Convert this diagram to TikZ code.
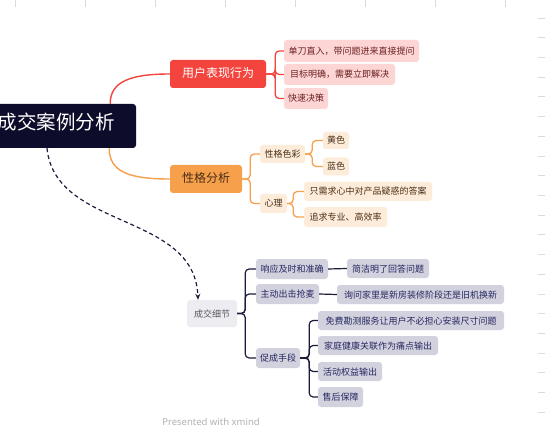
\documentclass[tikz,border=0pt]{standalone}
\usepackage{fontspec}
\setmainfont{Noto Sans CJK SC}
\newfontfamily\latinfont{Noto Sans}
\usetikzlibrary{arrows.meta}
\definecolor{rootc}{HTML}{0D0C2B}
\definecolor{redc}{HTML}{F4443E}
\definecolor{pinkc}{HTML}{FDD5D5}
\definecolor{pinkt}{HTML}{6B2020}
\definecolor{orangec}{HTML}{F6A04C}
\definecolor{peachc}{HTML}{FDECD9}
\definecolor{oranget}{HTML}{4A2E16}
\definecolor{dealc}{HTML}{EDEDF1}
\definecolor{dealt}{HTML}{55555F}
\definecolor{grayc}{HTML}{D2D2DE}
\definecolor{grayt}{HTML}{262660}
\definecolor{navyl}{HTML}{1C1C3C}
\definecolor{tickc}{HTML}{DADADA}
\tikzset{
  bx/.style={rounded corners=3pt, inner sep=0pt, align=center, text height=0.8em, text depth=0.1em},
  rootbox/.style={bx, fill=rootc, text=white, font=\fontsize{19.5}{22}\selectfont},
  redbox/.style={bx, fill=redc, text=white, font=\fontsize{12}{14}\selectfont},
  orgbox/.style={bx, fill=orangec, text=oranget, font=\fontsize{12}{14}\selectfont},
  pinkbox/.style={bx, fill=pinkc, text=pinkt, font=\fontsize{9}{11}\selectfont},
  peachbox/.style={bx, fill=peachc, text=oranget, font=\fontsize{9}{11}\selectfont},
  dealbox/.style={bx, fill=dealc, text=dealt, font=\fontsize{9}{11}\selectfont},
  graybox/.style={bx, fill=grayc, text=grayt, font=\fontsize{9}{11}\selectfont},
  redline/.style={draw=redc, line width=1.3pt, rounded corners=4pt},
  orgline/.style={draw=orangec, line width=1.3pt, rounded corners=4pt},
  navyline/.style={draw=navyl, line width=1.2pt, rounded corners=4pt},
  tick/.style={draw=tickc, line width=0.6pt}
}
\begin{document}
\begin{tikzpicture}[x=1pt,y=-1pt]
\useasboundingbox (0,0) rectangle (545,427);
\fill[white] (0,0) rectangle (545,427);
\clip (0,0) rectangle (545,427);
% ruler ticks
\foreach \k in {0,...,7} { \draw[tick] (15+70*\k,0) -- (15+70*\k,7); }
\foreach \k in {0,...,20} { \draw[tick] (538,18+19.7*\k) -- (545,18+19.7*\k); }

% root
\node[rootbox, minimum width=159pt, minimum height=44pt] (root) at (56.5,126) {成交案例分析};

% level 1
\node[redbox, minimum width=96pt, minimum height=28pt] (red) at (218,74) {用户表现行为};
\node[orgbox, minimum width=72pt, minimum height=28pt] (org) at (206,179) {性格分析};
\node[dealbox, minimum width=50pt, minimum height=27pt] (deal) at (212,313.5) {成交细节};

% red children
\node[pinkbox, minimum width=135pt, minimum height=22pt] (r1) at (351.5,51) {单刀直入，带问题进来直接提问};
\node[pinkbox, minimum width=111pt, minimum height=21pt] (r2) at (339.5,74.5) {目标明确，需要立即解决};
\node[pinkbox, minimum width=44pt, minimum height=21pt] (r3) at (306,98.5) {快速决策};

% orange children
\node[peachbox, minimum width=45pt, minimum height=18pt] (o1) at (282.5,154) {性格色彩};
\node[peachbox, minimum width=27pt, minimum height=19pt] (o2) at (273.5,203.5) {心理};
\node[peachbox, minimum width=26pt, minimum height=17pt] (o11) at (336,140.5) {黄色};
\node[peachbox, minimum width=26pt, minimum height=18pt] (o12) at (336,166.5) {蓝色};
\node[peachbox, minimum width=128pt, minimum height=19pt] (o21) at (368,191.5) {只需求心中对产品疑惑的答案};
\node[peachbox, minimum width=83pt, minimum height=20pt] (o22) at (345.5,217) {追求专业、高效率};

% deal children
\node[graybox, minimum width=72pt, minimum height=20pt] (d1) at (292,269) {响应及时和准确};
\node[graybox, minimum width=63pt, minimum height=20pt] (d2) at (287.5,294) {主动出击抢麦};
\node[graybox, minimum width=44pt, minimum height=20pt] (d3) at (278,358) {促成手段};
\node[graybox, minimum width=82pt, minimum height=19pt] (d11) at (388,268.5) {简洁明了回答问题};
\node[graybox, minimum width=167pt, minimum height=19pt] (d21) at (420.5,294.5) {询问家里是新房装修阶段还是旧机换新};
\node[graybox, minimum width=186pt, minimum height=19pt] (d31) at (411,320.5) {免费勘测服务让用户不必担心安装尺寸问题};
\node[graybox, minimum width=120pt, minimum height=19pt] (d32) at (378,345.5) {家庭健康关联作为痛点输出};
\node[graybox, minimum width=64pt, minimum height=19pt] (d33) at (350,371.5) {活动权益输出};
\node[graybox, minimum width=45pt, minimum height=20pt] (d34) at (340.5,397) {售后保障};

% main curves
\draw[draw=redc, line width=1.4pt] ([xshift=-26pt]root.north east) .. controls +(0,-22) and +(-40,0) .. (red.west);
\draw[draw=orangec, line width=1.4pt] ([xshift=-27pt]root.south east) .. controls +(0,24) and +(-40,0) .. (org.west);
\draw[draw=navyl, line width=1.2pt, dash pattern=on 4pt off 3pt, -{Stealth[length=6pt,width=5pt]}]
  ([xshift=-9.5pt]root.south) .. controls +(8,82) and +(-3,-88) .. ([xshift=-14pt]deal.north);

% red brackets
\foreach \c in {r1,r2,r3} { \draw[redline] (red.east) -- ([xshift=9pt]red.east) |- (\c.west); }
% orange brackets
\foreach \c in {o1,o2} { \draw[orgline] (org.east) -- ([xshift=8pt]org.east) |- (\c.west); }
\foreach \c in {o11,o12} { \draw[orgline] (o1.east) -- ([xshift=7pt]o1.east) |- (\c.west); }
\foreach \c in {o21,o22} { \draw[orgline] (o2.east) -- ([xshift=6pt]o2.east) |- (\c.west); }
% deal brackets
\foreach \c in {d1,d2,d3} { \draw[navyline] (deal.east) -- ([xshift=8pt]deal.east) |- (\c.west); }
\draw[navyline] (d1.east) -- (d11.west);
\draw[navyline] (d2.east) -- (d21.west);
\foreach \c in {d31,d32,d33,d34} { \draw[navyline] (d3.east) -- ([xshift=9pt]d3.east) |- (\c.west); }

% footer
\node[font=\latinfont\fontsize{9.5}{11}\selectfont, text=black!30, inner sep=0pt] (foot) at (211,422) {Presented with \textbf{xmind}};
\end{tikzpicture}
\end{document}
